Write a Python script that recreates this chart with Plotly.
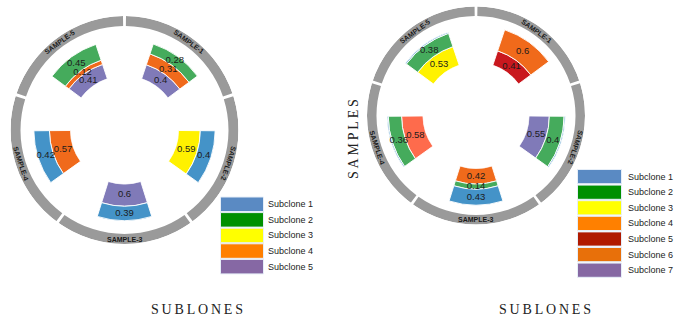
import math
import plotly.graph_objects as go

W, H = 684, 322

samples = ["SAMPLE-1", "SAMPLE-2", "SAMPLE-3", "SAMPLE-4", "SAMPLE-5"]
sample_theta = [36, 108, 180, 252, 324]          # clockwise from 12 o'clock
sample_text_angle = [36, 108, 0, 72, -36]

# ---- left panel: subclone fractions per sample (0 = absent) ----
left_names = ["Subclone 1", "Subclone 2", "Subclone 3", "Subclone 4", "Subclone 5"]
left_sc1 = [0.00, 0.40, 0.39, 0.42, 0.00]
left_sc2 = [0.28, 0.00, 0.00, 0.00, 0.45]
left_sc3 = [0.00, 0.59, 0.00, 0.00, 0.00]
left_sc4 = [0.31, 0.00, 0.00, 0.57, 0.12]
left_sc5 = [0.40, 0.00, 0.60, 0.00, 0.41]
left_fill = ["#4493c8", "#45ab5c", "#fff100", "#f06a1b", "#807ab8"]
left_key = ["#5a8ac3", "#009000", "#ffff00", "#ff7f00", "#8668a4"]

# ---- right panel ----
right_names = ["Subclone 1", "Subclone 2", "Subclone 3", "Subclone 4",
               "Subclone 5", "Subclone 6", "Subclone 7"]
right_sc1 = [0.00, 0.03, 0.43, 0.03, 0.03]
right_sc2 = [0.00, 0.40, 0.14, 0.36, 0.38]
right_sc3 = [0.00, 0.00, 0.00, 0.00, 0.53]
right_sc4 = [0.60, 0.00, 0.42, 0.00, 0.00]
right_sc5 = [0.41, 0.00, 0.00, 0.00, 0.00]
right_sc6 = [0.00, 0.00, 0.00, 0.58, 0.00]
right_sc7 = [0.00, 0.55, 0.00, 0.00, 0.00]
right_fill = ["#4493c8", "#45ab5c", "#fff200", "#f06a1b", "#c9181e", "#fe6b4c", "#807ab8"]
right_key = ["#5a8ac3", "#009000", "#ffff00", "#ff8000", "#b01a00", "#e8700a", "#8668a3"]

RING_COLOR = "#9a9a9a"
PX_PER_UNIT = 37.0

fig = go.Figure()


def panel(pid, series, fills, cx, cy, rad_px, hole_px, ring_in_px):
    R = (rad_px - hole_px) / PX_PER_UNIT
    ring_base = (ring_in_px - hole_px) / PX_PER_UNIT
    ring_thick = (rad_px - ring_in_px) / PX_PER_UNIT
    # outer ring of sample segments
    fig.add_trace(go.Barpolar(
        r=[ring_thick] * len(samples), base=[ring_base] * len(samples),
        theta=sample_theta, width=70.5, subplot=pid,
        marker=dict(color=RING_COLOR, line=dict(width=0)),
        showlegend=False, hoverinfo="skip"))
    base = [0.0] * len(samples)
    labels = []
    # higher-numbered subclones sit closest to the centre
    for k in reversed(range(len(series))):
        vals = series[k]
        idx = [i for i, v in enumerate(vals) if v > 0]
        if not idx:
            continue
        fig.add_trace(go.Barpolar(
            r=[vals[i] for i in idx], base=[base[i] for i in idx],
            theta=[sample_theta[i] for i in idx], width=35, subplot=pid,
            marker=dict(color=fills[k], line=dict(color="rgba(255,255,255,0.9)", width=1)),
            showlegend=False, hoverinfo="skip"))
        for i in idx:
            if vals[i] >= 0.1:
                labels.append((base[i] + vals[i] / 2, sample_theta[i], f"{vals[i]:g}"))
            base[i] += vals[i]
    fig.add_trace(go.Scatterpolar(
        r=[l[0] for l in labels], theta=[l[1] for l in labels],
        text=[l[2] for l in labels], mode="text", subplot=pid,
        textfont=dict(family="Liberation Sans", size=9.5, color="#1c1c1c"),
        showlegend=False, hoverinfo="skip"))
    # sample names written along the ring
    mid = (ring_in_px + rad_px) / 2
    for name, th, ta in zip(samples, sample_theta, sample_text_angle):
        x = cx + mid * math.sin(math.radians(th))
        y = cy - mid * math.cos(math.radians(th))
        fig.add_annotation(x=x / W, y=1 - y / H, xref="paper", yref="paper",
                           text=f"<b>{name}</b>", showarrow=False, textangle=ta,
                           font=dict(family="Liberation Sans", size=7, color="#1a1a1a"),
                           xanchor="center", yanchor="middle")
    return dict(
        domain=dict(x=[(cx - rad_px) / W, (cx + rad_px) / W],
                    y=[1 - (cy + rad_px) / H, 1 - (cy - rad_px) / H]),
        hole=hole_px / rad_px, bgcolor="rgba(0,0,0,0)", barmode="overlay",
        radialaxis=dict(visible=False, range=[0, R], showgrid=False),
        angularaxis=dict(visible=False, rotation=90, direction="clockwise",
                         thetaunit="degrees", showgrid=False, showline=False,
                         ticks=""))


polar1 = panel("polar", [left_sc1, left_sc2, left_sc3, left_sc4, left_sc5],
               left_fill, 124.5, 130, 114, 54, 104)
polar2 = panel("polar2", [right_sc1, right_sc2, right_sc3, right_sc4, right_sc5,
                          right_sc6, right_sc7],
               right_fill, 476, 115.5, 109, 53, 99.5)


def key(names, colors, x0, x1, top, step, h, tx):
    for i, (n, c) in enumerate(zip(names, colors)):
        y0 = top + step * i
        fig.add_shape(type="rect", xref="paper", yref="paper",
                      x0=x0 / W, x1=x1 / W, y0=1 - (y0 + h) / H, y1=1 - y0 / H,
                      fillcolor=c, line=dict(color="#e6eef8", width=1))
        fig.add_annotation(x=tx / W, y=1 - (y0 + h / 2) / H, xref="paper", yref="paper",
                           text=n, showarrow=False, xanchor="left", yanchor="middle",
                           font=dict(family="Liberation Sans", size=9, color="#222222"))


key(left_names, left_key, 220.5, 263.5, 197, 15.6, 14.5, 266)
key(right_names, right_key, 577.5, 621.5, 169.5, 15.6, 14.2, 626)

title_font = dict(family="Liberation Serif", size=14, color="#222222")
thin = "\u2009"
for x in (197, 545):
    fig.add_annotation(x=x / W, y=1 - 309 / H, xref="paper", yref="paper",
                       text=thin.join("SUBLONES"), showarrow=False, font=title_font,
                       xanchor="center", yanchor="middle")
fig.add_annotation(x=353 / W, y=1 - 139 / H, xref="paper", yref="paper",
                   text=thin.join("SAMPLES"), showarrow=False, font=title_font,
                   textangle=-90, xanchor="center", yanchor="middle")

fig.update_layout(width=W, height=H, margin=dict(l=0, r=0, t=0, b=0),
                  paper_bgcolor="white", plot_bgcolor="white",
                  polar=polar1, polar2=polar2, showlegend=False)

fig.write_html("out.html")
